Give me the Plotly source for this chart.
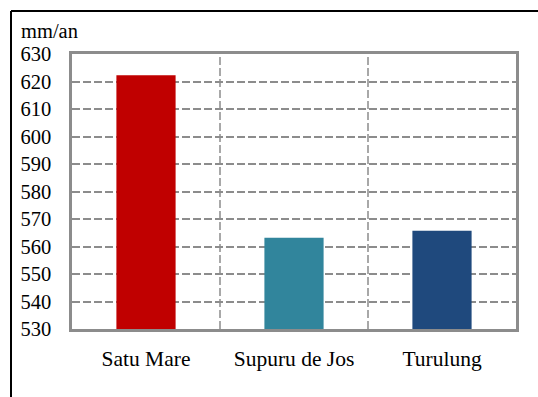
import plotly.graph_objects as go

# Mean annual precipitation per station
stations = ["Satu Mare", "Supuru de Jos", "Turulung"]
values = [622.3, 563.2, 565.7]
bar_colors = ["#C00000", "#31859C", "#1F497D"]
y_ticks = list(range(530, 631, 10))

W, H = 538, 397
ML, MR, MT, MB = 72, 22, 54, 68
pw, ph = W - ML - MR, H - MT - MB

fig = go.Figure(go.Bar(
    x=list(range(len(stations))), y=values,
    marker=dict(color=bar_colors, line=dict(width=0)),
    width=0.4,
))

grid = "#8C8C8C"
family = "Times New Roman, Liberation Serif, serif"
font = dict(family=family, size=20.5, color="#000")
cat_font = dict(family=family, size=21.5, color="#000")

# dashed separators between categories
shapes = [
    dict(type="line", xref="x", yref="paper", x0=i + 0.5, x1=i + 0.5, y0=0, y1=1,
         line=dict(color=grid, width=1.5, dash="8px,3px"), layer="below")
    for i in range(len(stations) - 1)
]
# outer chart frame (top and left edges)
fx = (11 - ML) / pw
fy = (ph + MT - 11) / ph
shapes += [
    dict(type="line", xref="paper", yref="paper", x0=fx, x1=2, y0=fy, y1=fy,
         line=dict(color="#000", width=2)),
    dict(type="line", xref="paper", yref="paper", x0=fx, x1=fx, y0=fy, y1=-2,
         line=dict(color="#000", width=2)),
]

fig.update_layout(
    width=W, height=H,
    margin=dict(l=ML, r=MR, t=MT, b=MB),
    paper_bgcolor="white", plot_bgcolor="white",
    showlegend=False,
    font=font,
    shapes=shapes,
    xaxis=dict(
        range=[-0.5, len(stations) - 0.5],
        tickvals=list(range(len(stations))), ticktext=stations,
        showgrid=False, zeroline=False,
        showline=True, linecolor=grid, linewidth=2.5, mirror=True,
        ticks="", ticklabelstandoff=8, tickfont=cat_font,
    ),
    yaxis=dict(
        range=[530, 630], tickvals=y_ticks,
        showgrid=True, gridcolor=grid, gridwidth=1.5, griddash="8px,3px",
        zeroline=False,
        showline=True, linecolor=grid, linewidth=2.5, mirror=True,
        ticks="", ticklabelstandoff=14, tickfont=font,
    ),
    annotations=[dict(text="mm/an", xref="paper", yref="paper",
                      x=(19 - ML) / pw, y=(ph + MT - 31) / ph,
                      xanchor="left", yanchor="middle", showarrow=False, font=font)],
)

fig.write_html("out.html")
